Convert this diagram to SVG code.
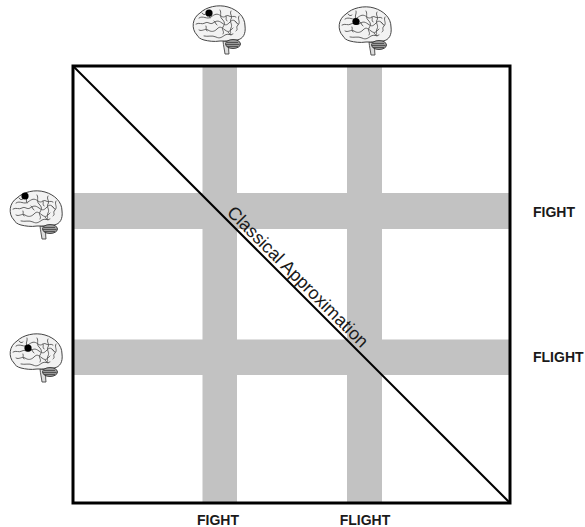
<svg xmlns="http://www.w3.org/2000/svg" xmlns:xlink="http://www.w3.org/1999/xlink" width="585" height="527" viewBox="0 0 585 527">
<style>
.bar{fill:#c2c2c2}
.lbl{font-family:"Liberation Sans",Arial,sans-serif;font-size:14px;font-weight:bold;fill:#1a1a1a}
.diag{font-family:"Liberation Sans",Arial,sans-serif;font-size:18px;fill:#1a1a1a}
.gy{fill:none;stroke:#555;stroke-width:0.9;stroke-linecap:round}
.dot{fill:#000}
</style>
<defs>
<g id="brain">
<path d="M33,37 C33.5,42 34.5,46 35,50 L39,50 C38.5,46 38.5,42 39,38 Z" fill="#ddd" stroke="#444" stroke-width="0.9"/>
<path d="M7,31 C1,25 2,14 10,9 C16,3 28,0 38,3 C48,6 55,13 55,22 C56,30 53,35 47,36 C41,37 36,37 30,37 C24,38 18,37 14,36 C10,35 8,33 7,31 Z" fill="#f2f2f2" stroke="#444" stroke-width="1"/>
<ellipse cx="43" cy="40" rx="7.5" ry="4.5" fill="#9a9a9a" stroke="#333" stroke-width="0.9"/>
<path d="M37,38.5 h11 M36,40.5 h13.5 M37,42.5 h11" stroke="#333" stroke-width="0.7" fill="none"/>
<path class="gy" d="M9,14 c4,-3 8,2 12,-1 s6,-4 10,-1 s5,-2 8,0 s4,-1 7,1"/>
<path class="gy" d="M6,20 c3,-2 6,1 9,-1 s5,2 8,0 s5,-3 9,0 s5,2 8,-1 s4,-2 7,1"/>
<path class="gy" d="M9,26 c3,2 6,-2 9,0 s6,2 9,-1 s4,-2 8,1 s5,1 8,-2"/>
<path class="gy" d="M30,6 c2,3 -1,6 2,9 s3,5 1,8 s2,4 0,7"/>
<path class="gy" d="M41,7 c-2,3 2,5 0,8 s2,5 0,9 s1,3 -1,6"/>
<path class="gy" d="M49,12 c-2,3 2,6 -1,9 s1,4 -2,6"/>
<path class="gy" d="M14,32 c4,1 8,-1 12,1 s6,0 9,-2 s5,1 8,-1"/>
<path class="gy" d="M20,6 c1,3 -2,5 0,8 M16,22 c1,2 -1,3 1,5 M24,17 c2,1 1,3 3,4 M36,12 c1,2 -1,3 1,5 M45,17 c2,1 1,3 3,3 M38,28 c2,1 1,3 3,3 M12,9 c1,2 3,2 4,1"/>
</g>
</defs>
<g id="grid-bars">
<rect class="bar" x="202.5" y="66" width="34.5" height="437"/>
<rect class="bar" x="347" y="66" width="35" height="437"/>
<rect class="bar" x="73" y="193" width="437" height="36"/>
<rect class="bar" x="73" y="339.5" width="437" height="35.5"/>
</g>
<g id="connectors">
<line x1="73" y1="66" x2="510" y2="503" stroke="#000" stroke-width="2"/>
</g>
<g id="frame">
<rect x="73" y="66" width="437" height="437" fill="none" stroke="#000" stroke-width="3"/>
</g>
<g id="diag-label">
<text class="diag" transform="translate(293.5,281) rotate(45)" text-anchor="middle">Classical Approximation</text>
</g>
<g id="brain-top-1">
<use xlink:href="#brain" transform="translate(190,4)"/>
<circle class="dot" cx="209" cy="13" r="3.6"/>
</g>
<g id="brain-top-2">
<use xlink:href="#brain" transform="translate(336,5)"/>
<circle class="dot" cx="356" cy="21.5" r="3.6"/>
</g>
<g id="brain-left-1">
<use xlink:href="#brain" transform="translate(7,189)"/>
<circle class="dot" cx="25" cy="196" r="3.6"/>
</g>
<g id="brain-left-2">
<use xlink:href="#brain" transform="translate(7,332)"/>
<circle class="dot" cx="28" cy="348" r="3.6"/>
</g>
<g id="labels">
<text class="lbl" x="533" y="217">FIGHT</text>
<text class="lbl" x="533" y="362">FLIGHT</text>
<text class="lbl" x="218" y="525" text-anchor="middle">FIGHT</text>
<text class="lbl" x="365" y="525" text-anchor="middle">FLIGHT</text>
</g>
</svg>
